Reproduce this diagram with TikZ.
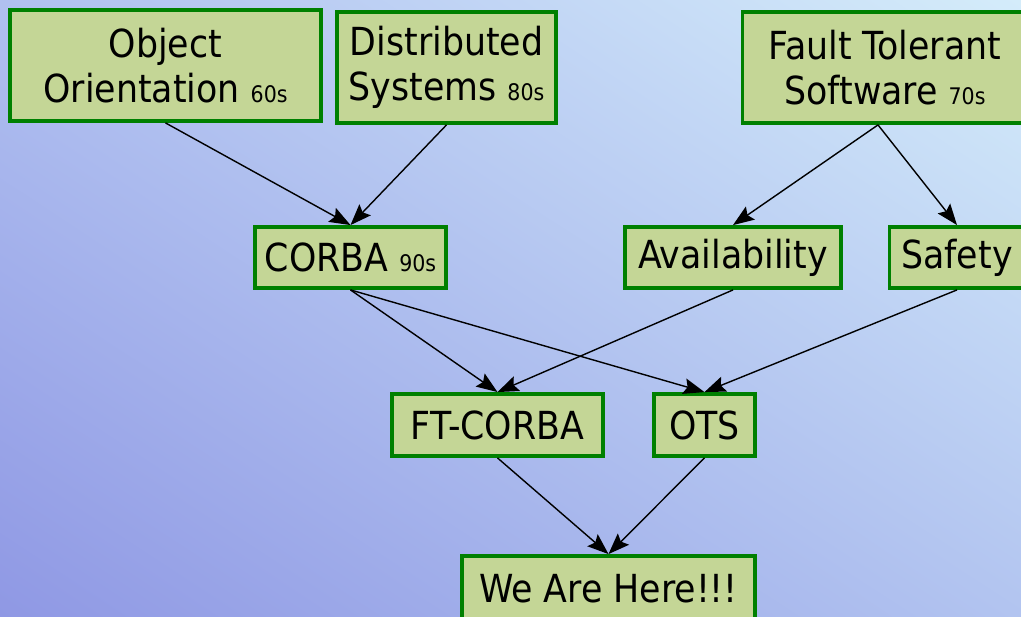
\documentclass[tikz,border=0pt]{standalone}
\usepackage{fontspec}
\setmainfont{DejaVu Sans Condensed}
\usetikzlibrary{arrows.meta, shadings}

\definecolor{boxgreen}{RGB}{0,128,0}
\definecolor{boxfill}{RGB}{196,214,150}
\definecolor{bgll}{RGB}{143,152,228}
\definecolor{bglr}{RGB}{178,196,240}
\definecolor{bgul}{RGB}{176,192,240}
\definecolor{bgur}{RGB}{212,236,250}

\newcommand{\era}[1]{{\fontsize{13}{13}\selectfont #1}}

\tikzset{
	topic/.style = {draw = boxgreen, line width = 2.2pt, fill = boxfill,
		inner sep = 0pt, align = center, text = black,
		font = \fontsize{22}{26}\selectfont},
}

\begin{document}
\begin{tikzpicture}[> = {Stealth[length = 12pt, width = 9pt, inset = 2pt]}, x = 0.02cm, y = -0.02cm]

	% Page and background

	\useasboundingbox (0, 0) rectangle (1021, 617);
	\clip (0, 0) rectangle (1021, 617);
	\shade [upper left = bgul, upper right = bgur, lower left = bgll, lower right = bglr]
		(0, 0) rectangle (1021, 617);

	% Roots

	\node [topic, minimum width = 6.22cm, minimum height = 2.22cm] (oo) at (165.5, 65.5)
		{Object\\Orientation \era{60s}};
	\node [topic, minimum width = 4.38cm, minimum height = 2.22cm] (ds) at (446.5, 67.5)
		{Distributed\\Systems \era{80s}};
	\node [topic, minimum width = 5.7cm, minimum height = 2.22cm] (fts) at (885, 67.5)
		{Fault Tolerant\\Software \era{70s}};

	% Second row

	\node [topic, minimum width = 3.82cm, minimum height = 1.22cm] (corba) at (350.5, 257.5)
		{CORBA \era{90s}};
	\node [topic, minimum width = 4.32cm, minimum height = 1.22cm] (avail) at (733, 257.5)
		{Availability};
	\node [topic, minimum width = 2.7cm, minimum height = 1.22cm] (safety) at (957, 257.5)
		{Safety};

	% Third row

	\node [topic, minimum width = 4.22cm, minimum height = 1.24cm] (ftcorba) at (497.5, 425)
		{FT-CORBA};
	\node [topic, minimum width = 2.02cm, minimum height = 1.24cm] (ots) at (704.5, 425)
		{OTS};

	% Where we are

	\node [topic, minimum width = 5.86cm, minimum height = 1.3cm] (here) at (608.5, 588.5)
		{We Are Here!!!};

	% Influences

	\begin{scope}[->, line width = 0.8pt]

		\draw (oo.south) -- (corba.north);
		\draw (ds.south) -- (corba.north);
		\draw (fts.south) ++(-7, 0) -- (avail.north);
		\draw (fts.south) ++(-7, 0) -- (safety.north);
		\draw (corba.south) -- (ftcorba.north);
		\draw (corba.south) -- (ots.north);
		\draw (avail.south) -- (ftcorba.north);
		\draw (safety.south) -- (ots.north);
		\draw (ftcorba.south) -- (here.north);
		\draw (ots.south) -- (here.north);

	\end{scope}

\end{tikzpicture}
\end{document}
